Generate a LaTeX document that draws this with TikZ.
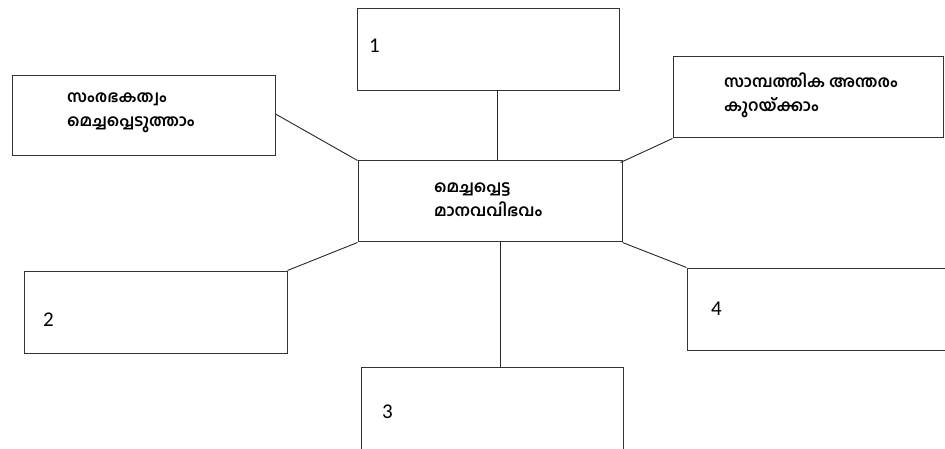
\documentclass[tikz,border=0pt]{standalone}
\usepackage{fontspec}
\setmainfont{Carlito}
\newfontfamily\malfont[Script=Malayalam]{Hind Kochi}
\tikzset{
  box/.style={draw=black!80, line width=1pt, minimum width=#1, minimum height=82pt, inner sep=0pt},
  box/.default=262pt,
  conn/.style={draw=black!85, line width=0.9pt},
  num/.style={anchor=west, inner sep=0pt, font=\fontsize{21}{23}\selectfont},
  mal/.style={anchor=west, inner sep=0pt, align=left, font=\malfont\bfseries\fontsize{16.2}{24}\selectfont}
}
\begin{document}
\begin{tikzpicture}[x=1pt,y=-1pt]
\useasboundingbox (0,0) rectangle (945,449);
\clip (0,0) rectangle (945,449);
\node[box=262pt, minimum height=82pt] (b1) at (488,50) {};
\node[box=263pt, minimum height=80pt] (l1) at (143.5,116) {};
\node[box=270pt, minimum height=81pt] (r1) at (808,97.5) {};
\node[box=264pt, minimum height=81pt] (c) at (490,201.5) {};
\node[box=263pt, minimum height=82pt] (b2) at (155.5,312) {};
\node[box=262pt, minimum height=82pt] (b4) at (818,309) {};
\node[box=262pt, minimum height=82pt] (b3) at (492,408) {};

\node[num] (t1) at (369,46) {1};
\node[num] (t2) at (43,320) {2};
\node[num] (t3) at (382,412) {3};
\node[num] (t4) at (711,309) {4};

\node[mal] (tl1) at (67,113) {സംരഭകത്വം\\മെച്ചപ്പെടുത്താം};
\node[mal] (tr1) at (724,95) {സാമ്പത്തിക അന്തരം\\കുറയ്ക്കാം};
\node[mal] (tc) at (434,200) {മെച്ചപ്പെട്ട\\മാനവവിഭവം};

\draw[conn] ([xshift=9pt]b1.south) -- ([xshift=9pt]b1.south |- c.north);
\draw[conn] ([yshift=2pt]l1.east) -- (c.north west);
\draw[conn] ([xshift=-2pt,yshift=-2pt]c.north east) -- (r1.south west);
\draw[conn] (c.south west) -- (b2.north east);
\draw[conn] (c.south east) -- (b4.north west);
\draw[conn] ([xshift=10pt]c.south) -- ([xshift=10pt]c.south |- b3.north);
\end{tikzpicture}
\end{document}
